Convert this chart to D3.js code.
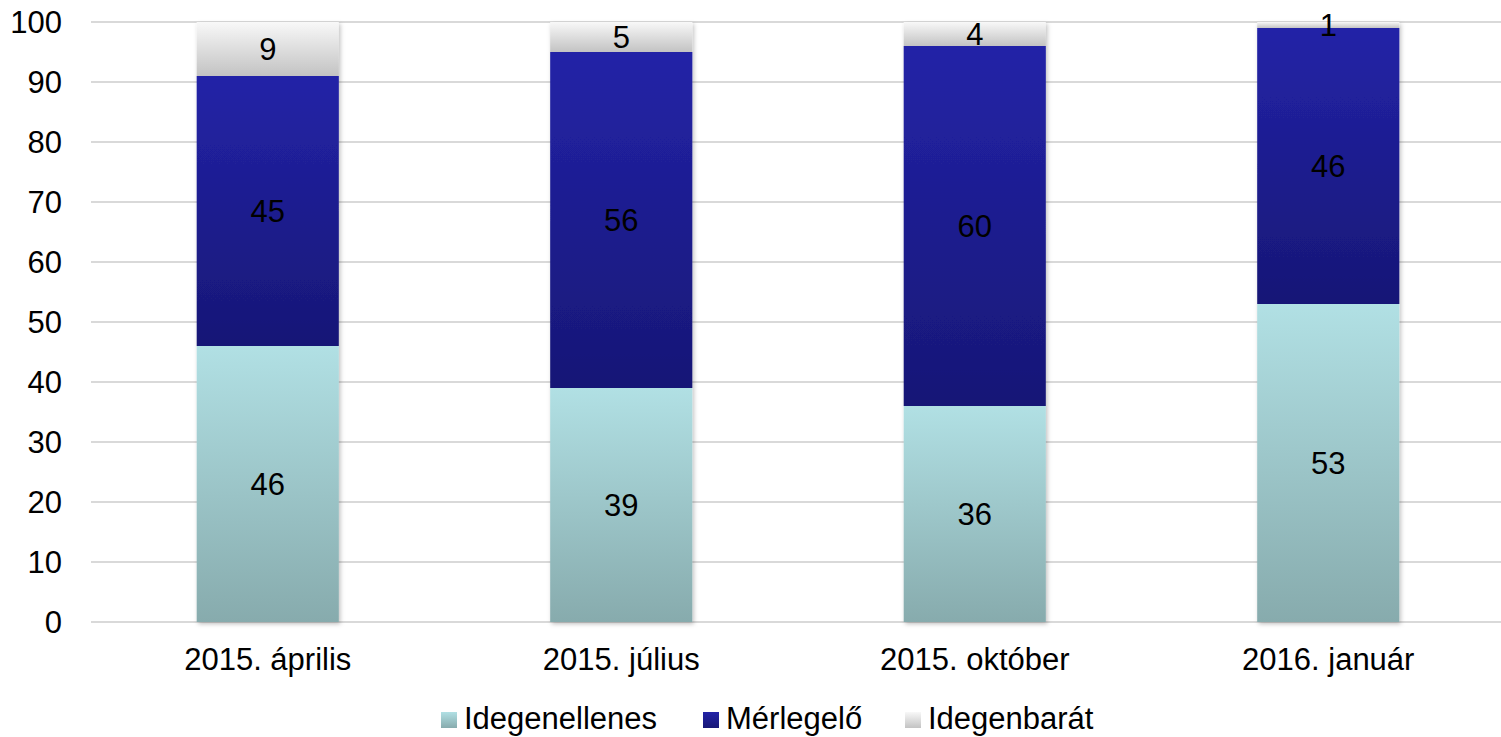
<!DOCTYPE html>
<meta charset="utf-8">
<script src="https://d3js.org/d3.v7.min.js"></script>
<style>
  body { margin: 0; background: #fff; }
  text { font-family: "Liberation Sans", Arial, sans-serif; fill: #000; }
</style>
<body>
<div id="chart"></div>
<script>

// data
var categories = ["2015. április", "2015. július", "2015. október", "2016. január"];
var seriesNames = ["Idegenellenes", "Mérlegelő", "Idegenbarát"];
var idegenellenes = [46, 39, 36, 53];
var merlegelo = [45, 56, 60, 46];
var idegenbarat = [9, 5, 4, 1];
var yTicks = [0, 10, 20, 30, 40, 50, 60, 70, 80, 90, 100];

var width = 1501, height = 737;

var svg = d3.select("#chart")
  .append("svg")
    .attr("width", width)
    .attr("height", height);

// gradients, one per series (top colour, bottom colour)
var gradColors = [["#b1e0e4", "#87abad"], ["#2323a7", "#171776"], ["#f8f8f8", "#c3c3c3"]];
var defs = svg.append("defs");
gradColors.forEach(function(c, i) {
  var g = defs.append("linearGradient")
    .attr("id", "grad" + i)
    .attr("x1", 0).attr("y1", 0).attr("x2", 0).attr("y2", 1);
  g.append("stop").attr("offset", "0%").attr("stop-color", c[0]);
  g.append("stop").attr("offset", "100%").attr("stop-color", c[1]);
});
var shadow = defs.append("filter").attr("id", "shadow")
  .attr("x", "-10%").attr("y", "-10%").attr("width", "130%").attr("height", "130%");
shadow.append("feDropShadow")
  .attr("dx", 1.5).attr("dy", 2).attr("stdDeviation", 2)
  .attr("flood-color", "#000").attr("flood-opacity", 0.25);

var x = d3.scaleBand()
  .domain(categories)
  .range([91, 1505])
  .paddingInner(0.598)
  .paddingOuter(0.299);

var y = d3.scaleLinear()
  .domain([0, 100])
  .range([622, 22]);

// gridlines
svg.append("g")
  .selectAll("line")
  .data(yTicks)
  .enter()
  .append("line")
    .attr("x1", 91)
    .attr("x2", width)
    .attr("y1", function(d) { return y(d); })
    .attr("y2", function(d) { return y(d); })
    .attr("stroke", "#d9d9d9")
    .attr("stroke-width", 2);

// y tick labels
svg.append("g")
  .selectAll("text")
  .data(yTicks)
  .enter()
  .append("text")
    .attr("x", 62)
    .attr("y", function(d) { return y(d); })
    .attr("dy", "0.36em")
    .attr("text-anchor", "end")
    .attr("font-size", "31px")
    .text(function(d) { return d; });

// stack the three series
var rows = categories.map(function(c, i) {
  return { cat: c, s0: idegenellenes[i], s1: merlegelo[i], s2: idegenbarat[i] };
});
var stacked = d3.stack().keys(["s0", "s1", "s2"])(rows);

var layers = svg.append("g").attr("filter", "url(#shadow)")
  .selectAll("g")
  .data(stacked)
  .enter()
  .append("g")
    .attr("fill", function(d, i) { return "url(#grad" + i + ")"; });

layers.selectAll("rect")
  .data(function(d) { return d; })
  .enter()
  .append("rect")
    .attr("x", function(d) { return x(d.data.cat); })
    .attr("y", function(d) { return y(d[1]); })
    .attr("width", x.bandwidth())
    .attr("height", function(d) { return y(d[0]) - y(d[1]); });

// value labels
var labels = svg.append("g");
stacked.forEach(function(layer) {
  labels.selectAll(null)
    .data(layer)
    .enter()
    .append("text")
      .attr("x", function(d) { return x(d.data.cat) + x.bandwidth() / 2; })
      .attr("y", function(d) { return y((d[0] + d[1]) / 2); })
      .attr("dy", "0.36em")
      .attr("text-anchor", "middle")
      .attr("font-size", "31px")
      .text(function(d) { return d[1] - d[0]; });
});

// x axis labels
svg.append("g")
  .selectAll("text")
  .data(categories)
  .enter()
  .append("text")
    .attr("x", function(d) { return x(d) + x.bandwidth() / 2; })
    .attr("y", 670)
    .attr("text-anchor", "middle")
    .attr("font-size", "31px")
    .text(function(d) { return d; });

// legend
var legendX = [441, 703, 905];
var legend = svg.append("g")
  .selectAll("g")
  .data(seriesNames)
  .enter()
  .append("g")
    .attr("transform", function(d, i) { return "translate(" + legendX[i] + ",712)"; });

legend.append("rect")
  .attr("width", 16)
  .attr("height", 16)
  .attr("fill", function(d, i) { return "url(#grad" + i + ")"; });

legend.append("text")
  .attr("x", 23)
  .attr("y", 17)
  .attr("font-size", "31px")
  .text(function(d) { return d; });

</script>
</body>
